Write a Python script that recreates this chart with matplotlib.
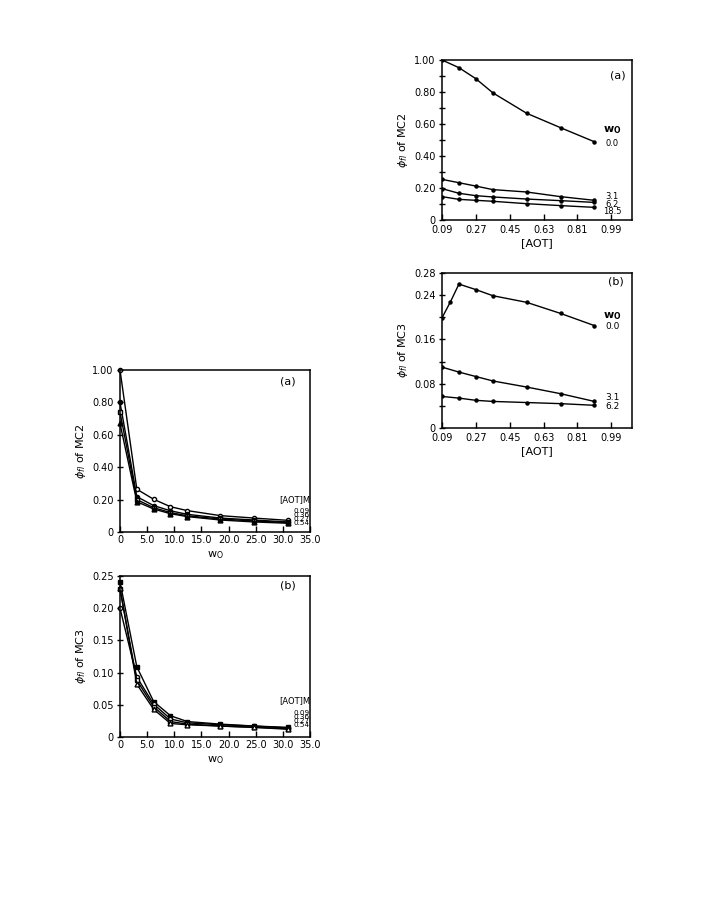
import numpy as np
import matplotlib
matplotlib.use("Agg")
import matplotlib.pyplot as plt
from matplotlib.ticker import MultipleLocator, FixedLocator

# right column: phi_fl vs [AOT] for several w0
aot = [0.09, 0.18, 0.27, 0.36, 0.54, 0.72, 0.90]
mc2_w0_labels = ["0.0", "3.1", "6.2", "18.5"]
mc2_vs_aot = [
    [1.00, 0.952, 0.883, 0.795, 0.667, 0.577, 0.489],
    [0.254, 0.233, 0.212, 0.190, 0.175, 0.146, 0.123],
    [0.196, 0.167, 0.152, 0.144, 0.131, 0.121, 0.110],
    [0.146, 0.129, 0.123, 0.117, 0.102, 0.090, 0.079],
]
aot_mc3_w0 = [0.09, 0.135, 0.18, 0.27, 0.36, 0.54, 0.72, 0.90]
mc3_w0_0 = [0.199, 0.228, 0.260, 0.250, 0.239, 0.227, 0.207, 0.185]
mc3_w0_31 = [0.110, 0.101, 0.093, 0.085, 0.074, 0.062, 0.048]
mc3_w0_62 = [0.057, 0.054, 0.050, 0.048, 0.046, 0.044, 0.041]

# left column: phi_fl vs w0 for several [AOT]
w0 = [0, 3.1, 6.2, 9.3, 12.4, 18.5, 24.7, 30.9]
aot_labels = ["0.09", "0.36", "0.27", "0.54"]
mc2_vs_w0 = [
    [1.00, 0.264, 0.202, 0.156, 0.132, 0.101, 0.086, 0.072],
    [0.80, 0.218, 0.163, 0.131, 0.109, 0.086, 0.074, 0.062],
    [0.74, 0.200, 0.150, 0.120, 0.100, 0.080, 0.068, 0.058],
    [0.67, 0.187, 0.142, 0.113, 0.095, 0.074, 0.062, 0.054],
]
mc3_vs_w0 = [
    [0.241, 0.109, 0.055, 0.033, 0.024, 0.020, 0.017, 0.015],
    [0.200, 0.093, 0.051, 0.028, 0.022, 0.019, 0.017, 0.014],
    [0.230, 0.088, 0.047, 0.024, 0.020, 0.017, 0.015, 0.013],
    [0.231, 0.082, 0.043, 0.021, 0.019, 0.017, 0.015, 0.012],
]
w0_markers = [dict(marker="o", mfc="white", ms=3),
              dict(marker="o", mfc="black", ms=3),
              dict(marker="s", mfc="white", ms=3),
              dict(marker="^", mfc="black", ms=3.5)]
mc3_markers = [dict(marker="s", mfc="black", ms=2.5),
               dict(marker="o", mfc="white", ms=3),
               dict(marker="s", mfc="white", ms=3),
               dict(marker="^", mfc="white", ms=3.5)]

plt.rcParams["font.family"] = "DejaVu Sans"
plt.rcParams["font.size"] = 7
plt.rcParams["mathtext.fontset"] = "dejavusans"

W, H = 715, 899
fig = plt.figure(figsize=(W / 100, H / 100), dpi=100)


def make_ax(l, r, t, b):
    return fig.add_axes([l / W, 1 - b / H, (r - l) / W, (b - t) / H])


def style(ax, xpad=2):
    for s in ax.spines.values():
        s.set_linewidth(1.1)
    ax.tick_params(axis="y", direction="inout", length=5, width=1, pad=2)
    ax.tick_params(axis="x", direction="in", length=4, width=1, pad=xpad)
    ax.tick_params(which="minor", axis="y", direction="inout", length=4, width=1)


def fmt(v, nd):
    return "0" if v == 0 else f"{v:.{nd}f}"


line_kw = dict(color="black", lw=1.0, mec="black")

# ---- right top (a)
ax1 = make_ax(442, 632, 60, 220)
for vals in mc2_vs_aot:
    ax1.plot(aot, vals, marker="o", ms=2.2, mfc="black", **line_kw)
ax1.set_xlim(0.09, 1.10)
ax1.set_ylim(0, 1.0)
xt = [0.09, 0.27, 0.45, 0.63, 0.81, 0.99]
ax1.xaxis.set_major_locator(FixedLocator(xt))
ax1.set_xticklabels([f"{v:.2f}" for v in xt])
yt = [0, 0.2, 0.4, 0.6, 0.8, 1.0]
ax1.set_yticks(yt)
ax1.set_yticklabels([fmt(v, 2) for v in yt])
ax1.yaxis.set_minor_locator(MultipleLocator(0.1))
style(ax1, xpad=3.5)
ax1.set_xlabel("[AOT]", fontsize=8, labelpad=2)
ax1.set_ylabel(r"$\phi_{fl}$ of MC2", fontsize=8, labelpad=3)
ax1.text(1.027, 0.906, "(a)", fontsize=8, ha="center", va="center")
ax1.text(0.995, 0.56, r"w$_\mathregular{O}$", fontsize=8, ha="center", va="center",
         fontweight="bold")
ax1.text(0.995, 0.48, mc2_w0_labels[0], fontsize=6, ha="center", va="center")
ax1.text(0.995, 0.172, "\n".join(mc2_w0_labels[1:]), fontsize=6, ha="center",
         va="top", linespacing=0.72)

# ---- right bottom (b)
ax2 = make_ax(442, 632, 273, 428)
ax2.plot(aot_mc3_w0, mc3_w0_0, marker="o", ms=2.2, mfc="black", **line_kw)
ax2.plot(aot, mc3_w0_31, marker="o", ms=2.2, mfc="black", **line_kw)
ax2.plot(aot, mc3_w0_62, marker="o", ms=2.2, mfc="black", **line_kw)
ax2.set_xlim(0.09, 1.10)
ax2.set_ylim(0, 0.28)
ax2.xaxis.set_major_locator(FixedLocator(xt))
ax2.set_xticklabels([f"{v:.2f}" for v in xt])
yt2 = [0, 0.08, 0.16, 0.24, 0.28]
ax2.set_yticks(yt2)
ax2.set_yticklabels([fmt(v, 2) for v in yt2])
ax2.yaxis.set_minor_locator(FixedLocator([0.04, 0.12, 0.20]))
style(ax2, xpad=3.5)
ax2.set_xlabel("[AOT]", fontsize=8, labelpad=2)
ax2.set_ylabel(r"$\phi_{fl}$ of MC3", fontsize=8, labelpad=3)
ax2.text(1.016, 0.265, "(b)", fontsize=8, ha="center", va="center")
ax2.text(0.995, 0.202, r"w$_\mathregular{O}$", fontsize=8, ha="center", va="center",
         fontweight="bold")
ax2.text(0.995, 0.184, "0.0", fontsize=6.5, ha="center", va="center")
ax2.text(0.995, 0.056, "3.1", fontsize=6.5, ha="center", va="center")
ax2.text(0.995, 0.038, "6.2", fontsize=6.5, ha="center", va="center")

# ---- left top (a)
ax3 = make_ax(120, 310, 370, 532)
for vals, mk in zip(mc2_vs_w0, w0_markers):
    ax3.plot(w0, vals, clip_on=False, **mk, **line_kw)
ax3.set_xlim(0, 35)
ax3.set_ylim(0, 1.0)
xt3 = [0, 5, 10, 15, 20, 25, 30, 35]
ax3.set_xticks(xt3)
ax3.set_xticklabels([fmt(v, 1) for v in xt3])
ax3.set_yticks(yt)
ax3.set_yticklabels([fmt(v, 2) for v in yt])
style(ax3)
ax3.set_xlabel(r"w$_\mathregular{O}$", fontsize=8, labelpad=3)
ax3.set_ylabel(r"$\phi_{fl}$ of MC2", fontsize=8, labelpad=3)
ax3.text(30.9, 0.926, "(a)", fontsize=8, ha="center", va="center")
ax3.text(35, 0.2, "[AOT]M", fontsize=6, ha="right", va="center")
ax3.text(35, 0.15, "\n".join(aot_labels), fontsize=5.2, ha="right", va="top",
         linespacing=0.62)

# ---- left bottom (b)
ax4 = make_ax(120, 310, 576, 737)
for vals, mk in zip(mc3_vs_w0, mc3_markers):
    ax4.plot(w0, vals, clip_on=False, **mk, **line_kw)
ax4.set_xlim(0, 35)
ax4.set_ylim(0, 0.25)
ax4.set_xticks(xt3)
ax4.set_xticklabels([fmt(v, 1) for v in xt3])
yt4 = [0, 0.05, 0.10, 0.15, 0.20, 0.25]
ax4.set_yticks(yt4)
ax4.set_yticklabels([fmt(v, 2) for v in yt4])
style(ax4)
ax4.set_xlabel(r"w$_\mathregular{O}$", fontsize=8, labelpad=3)
ax4.set_ylabel(r"$\phi_{fl}$ of MC3", fontsize=8, labelpad=3)
ax4.text(30.9, 0.236, "(b)", fontsize=8, ha="center", va="center")
ax4.text(35, 0.056, "[AOT]M", fontsize=6, ha="right", va="center")
ax4.text(35, 0.042, "\n".join(aot_labels), fontsize=5.2, ha="right", va="top",
         linespacing=0.62)

fig.savefig("out.png", dpi=100, facecolor="white")
